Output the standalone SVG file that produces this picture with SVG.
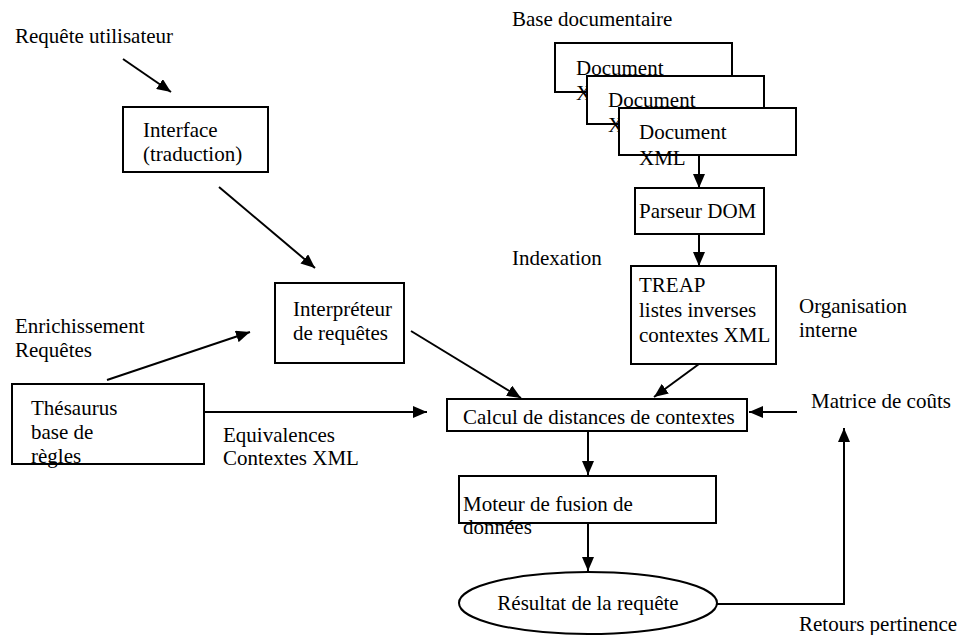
<svg xmlns="http://www.w3.org/2000/svg" width="960" height="635" viewBox="0 0 960 635">
<style>
text{font-family:"Liberation Serif","Times New Roman",serif;font-size:21px;fill:#000}
.box{fill:#fff;stroke:#000;stroke-width:2}
.ln{fill:none;stroke:#000;stroke-width:2}
</style>
<defs>
<marker id="ah" viewBox="0 0 14 12" refX="14" refY="6" markerWidth="14" markerHeight="12" markerUnits="userSpaceOnUse" orient="auto">
<path d="M0,0 L14,6 L0,12 Z" fill="#000"/>
</marker>
</defs>
<rect width="960" height="635" fill="#fff"/>

<g id="labels">
<text x="15" y="43">Requête utilisateur</text>
<text x="512" y="26">Base documentaire</text>
<text x="512" y="265">Indexation</text>
<text x="799" y="313">Organisation</text>
<text x="799" y="337">interne</text>
<text x="15" y="333">Enrichissement</text>
<text x="15" y="357">Requêtes</text>
<text x="223" y="442">Equivalences</text>
<text x="223" y="465">Contextes XML</text>
<text x="811" y="408">Matrice de coûts</text>
<text x="799" y="631">Retours pertinence</text>
</g>

<g id="interface">
<rect class="box" x="123" y="107" width="145" height="65"/>
<text x="143" y="137">Interface</text>
<text x="143" y="161">(traduction)</text>
</g>

<g id="documents">
<rect class="box" x="555" y="43" width="177" height="49"/>
<text x="576" y="75">Document</text>
<text x="576" y="100">XML</text>
<rect class="box" x="587" y="76" width="177" height="48"/>
<text x="608" y="107">Document</text>
<text x="608" y="132">XML</text>
<rect class="box" x="619" y="108" width="177" height="47"/>
<text x="639" y="139">Document</text>
<text x="639" y="165">XML</text>
</g>

<g id="parseur">
<rect class="box" x="635" y="188" width="129" height="46"/>
<text x="639" y="218">Parseur DOM</text>
</g>

<g id="treap">
<rect class="box" x="631" y="266" width="145" height="98"/>
<text x="639" y="292">TREAP</text>
<text x="639" y="317">listes inverses</text>
<text x="639" y="342">contextes XML</text>
</g>

<g id="interpreteur">
<rect class="box" x="275" y="283" width="129" height="80"/>
<text x="293" y="316">Interpréteur</text>
<text x="293" y="340">de requêtes</text>
</g>

<g id="thesaurus">
<rect class="box" x="12" y="384" width="192" height="80"/>
<text x="31" y="415">Thésaurus</text>
<text x="31" y="439">base de</text>
<text x="31" y="463">règles</text>
</g>

<g id="calcul">
<rect class="box" x="447" y="399" width="300" height="32"/>
<text x="463" y="424">Calcul de distances de contextes</text>
</g>

<g id="moteur">
<rect class="box" x="459" y="476" width="257" height="47"/>
<text x="463" y="511">Moteur de fusion de</text>
<text x="463" y="534">données</text>
</g>

<g id="resultat">
<ellipse class="box" cx="588" cy="603" rx="129" ry="31"/>
<text x="588" y="610" text-anchor="middle">Résultat de la requête</text>
</g>

<g id="connectors">
<line class="ln" x1="123" y1="59" x2="171" y2="92" marker-end="url(#ah)"/>
<line class="ln" x1="219" y1="187" x2="315" y2="268" marker-end="url(#ah)"/>
<line class="ln" x1="699" y1="155" x2="699" y2="188" marker-end="url(#ah)"/>
<line class="ln" x1="699" y1="234" x2="699" y2="266" marker-end="url(#ah)"/>
<line class="ln" x1="107" y1="380" x2="250" y2="332" marker-end="url(#ah)"/>
<line class="ln" x1="411" y1="331" x2="521" y2="398" marker-end="url(#ah)"/>
<line class="ln" x1="699" y1="364" x2="654" y2="397" marker-end="url(#ah)"/>
<line class="ln" x1="204" y1="412" x2="427" y2="412" marker-end="url(#ah)"/>
<line class="ln" x1="797" y1="412" x2="749" y2="412" marker-end="url(#ah)"/>
<line class="ln" x1="588" y1="431" x2="588" y2="475" marker-end="url(#ah)"/>
<line class="ln" x1="588" y1="523" x2="588" y2="571" marker-end="url(#ah)"/>
<polyline class="ln" points="717,604 844,604 844,428" marker-end="url(#ah)"/>
</g>
</svg>
